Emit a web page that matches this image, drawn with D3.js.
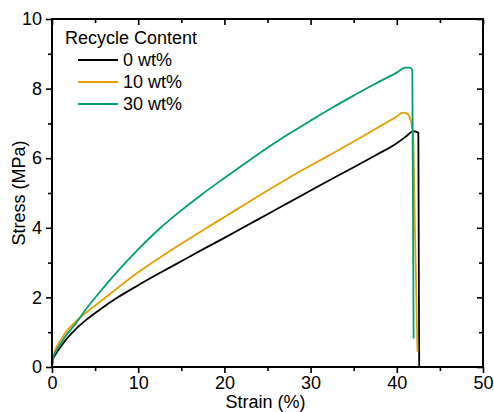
<!DOCTYPE html>
<html lang="en">
<head>
	<meta charset="UTF-8">
	<title>Stress strain</title>
	<style>
		body { margin: 0; background: #fff; }
		svg { display: block; font-family: "Liberation Sans", Arial, sans-serif; }
	</style>
</head>
<body>

	<script src="https://d3js.org/d3.v7.min.js" charset="utf-8"></script>

	<script type="text/javascript">

		var seriesNames = [ "0 wt%", "10 wt%", "30 wt%" ],
			seriesColors = [ "#000000", "#E69F00", "#009E73" ];

		// strain (%) / stress (MPa)
		var strain0 = [ 0, 0.1, 0.4, 0.9, 1.6, 2.6, 4, 5.5, 7.5, 10, 12.5, 15, 17.5, 20, 22.5, 25, 27.5, 30, 32.5, 35, 37.5, 40, 41.2, 41.9, 42.5, 42.55, 42.6 ],
			stress0 = [ 0, 0.2, 0.36, 0.54, 0.78, 1.05, 1.36, 1.64, 1.98, 2.35, 2.7, 3.04, 3.38, 3.71, 4.05, 4.39, 4.73, 5.07, 5.41, 5.74, 6.08, 6.43, 6.65, 6.78, 6.73, 3.0, 0.0 ];

		var strain10 = [ 0, 0.12, 0.4, 0.9, 1.6, 2.6, 4, 5.5, 7.5, 10, 12.5, 15, 17.5, 20, 22.5, 25, 27.5, 30, 32.5, 35, 37.5, 40, 40.7, 41.2, 41.6, 41.9, 42.1, 42.4 ],
			stress10 = [ 0, 0.25, 0.5, 0.73, 1.0, 1.27, 1.57, 1.86, 2.25, 2.72, 3.14, 3.54, 3.93, 4.31, 4.69, 5.07, 5.44, 5.79, 6.13, 6.48, 6.84, 7.2, 7.31, 7.28, 7.1, 6.6, 4.0, 0.44 ];

		var strain30 = [ 0, 0.12, 0.4, 0.9, 1.6, 2.6, 4, 5.5, 7.5, 10, 12.5, 15, 17.5, 20, 22.5, 25, 27.5, 30, 32.5, 35, 37.5, 40, 41.0, 41.5, 41.8, 41.95 ],
			stress30 = [ 0, 0.25, 0.42, 0.63, 0.9, 1.2, 1.68, 2.14, 2.72, 3.38, 3.98, 4.5, 4.98, 5.43, 5.87, 6.3, 6.7, 7.08, 7.45, 7.8, 8.14, 8.46, 8.6, 8.6, 8.53, 0.82 ];

		var xTicks = [ 0, 10, 20, 30, 40, 50 ],
			yTicks = [ 0, 2, 4, 6, 8, 10 ];

		var chartWidth = 494,
			chartHeight = 412,
			margin = { top: 19, right: 11, bottom: 45, left: 52 };

		var plotWidth = chartWidth - margin.left - margin.right,
			plotHeight = chartHeight - margin.top - margin.bottom;

		var svg = d3.select( "body" )
					.append( "svg" )
					.attr( "width", chartWidth )
					.attr( "height", chartHeight );

		var plot = svg.append( "g" )
					.attr( "transform", "translate(" + margin.left + "," + margin.top + ")" );

		var x = d3.scaleLinear().domain( [ 0, 50 ] ).range( [ 0, plotWidth ] ),
			y = d3.scaleLinear().domain( [ 0, 10 ] ).range( [ plotHeight, 0 ] );

		var allSeries = [
			d3.zip( strain0, stress0 ),
			d3.zip( strain10, stress10 ),
			d3.zip( strain30, stress30 )
		];

		var line = d3.line()
				.x( function(d) { return x( d[0] ); } )
				.y( function(d) { return y( d[1] ); } )
				.curve( d3.curveMonotoneX );

		// curves first, frame on top
		plot.selectAll( "path.curve" )
			.data( allSeries )
			.enter()
			.append( "path" )
			.attr( "class", "curve" )
			.attr( "d", line )
			.style( "fill", "none" )
			.style( "stroke", function(d, i) { return seriesColors[i]; } )
			.style( "stroke-width", 1.8 )
			.style( "stroke-linejoin", "round" );

		function styleAxis( g ) {
			g.select( ".domain" ).remove();
			g.selectAll( "line" ).style( "stroke", "#000" ).style( "stroke-width", 1.6 );
			g.selectAll( "text" ).style( "font-size", "18px" ).style( "fill", "#000" );
		}

		var xMinor = d3.range( 5, 50, 10 ),
			yMinor = d3.range( 1, 10, 2 );

		// bottom and left: ticks outward with labels
		plot.append( "g" )
			.attr( "transform", "translate(0," + plotHeight + ")" )
			.call( d3.axisBottom( x ).tickValues( xTicks ).tickSize( 6 ).tickPadding( 3 ) )
			.call( styleAxis );

		plot.append( "g" )
			.attr( "transform", "translate(0," + plotHeight + ")" )
			.call( d3.axisBottom( x ).tickValues( xMinor ).tickSize( 4 ).tickFormat( "" ) )
			.call( styleAxis );

		plot.append( "g" )
			.call( d3.axisLeft( y ).tickValues( yTicks ).tickSize( 6 ).tickPadding( 4 ) )
			.call( styleAxis );

		plot.append( "g" )
			.call( d3.axisLeft( y ).tickValues( yMinor ).tickSize( 4 ).tickFormat( "" ) )
			.call( styleAxis );

		// top and right: ticks inward, no labels
		plot.append( "g" )
			.call( d3.axisTop( x ).tickValues( xTicks ).tickSize( -6 ).tickFormat( "" ) )
			.call( styleAxis );

		plot.append( "g" )
			.call( d3.axisTop( x ).tickValues( xMinor ).tickSize( -4 ).tickFormat( "" ) )
			.call( styleAxis );

		plot.append( "g" )
			.attr( "transform", "translate(" + plotWidth + ",0)" )
			.call( d3.axisRight( y ).tickValues( yTicks ).tickSize( -6 ).tickFormat( "" ) )
			.call( styleAxis );

		plot.append( "g" )
			.attr( "transform", "translate(" + plotWidth + ",0)" )
			.call( d3.axisRight( y ).tickValues( yMinor ).tickSize( -4 ).tickFormat( "" ) )
			.call( styleAxis );

		plot.append( "rect" )
			.attr( "width", plotWidth )
			.attr( "height", plotHeight )
			.style( "fill", "none" )
			.style( "stroke", "#000" )
			.style( "stroke-width", 2 );

		// axis titles (the x title sits at the lower edge, as in the original)
		plot.append( "text" )
			.attr( "x", plotWidth / 2 - 2 )
			.attr( "y", plotHeight + 41 )
			.attr( "text-anchor", "middle" )
			.style( "font-size", "18px" )
			.text( "Strain (%)" );

		plot.append( "text" )
			.attr( "transform", "translate(" + ( -27 ) + "," + ( plotHeight / 2 ) + ") rotate(-90)" )
			.attr( "text-anchor", "middle" )
			.style( "font-size", "18px" )
			.text( "Stress (MPa)" );

		// legend
		var legend = plot.append( "g" )
					.attr( "transform", "translate(13,25)" );

		legend.append( "text" )
			.attr( "x", 0 )
			.attr( "y", 0 )
			.style( "font-size", "18px" )
			.text( "Recycle Content" );

		var items = legend.selectAll( "g.item" )
					.data( seriesNames )
					.enter()
					.append( "g" )
					.attr( "class", "item" )
					.attr( "transform", function(d, i) { return "translate(0," + ( 16 + i * 22 ) + ")"; } );

		items.append( "line" )
			.attr( "x1", 13 )
			.attr( "x2", 53 )
			.style( "stroke", function(d, i) { return seriesColors[i]; } )
			.style( "stroke-width", 1.8 );

		items.append( "text" )
			.attr( "x", 58 )
			.attr( "dy", "0.35em" )
			.style( "font-size", "18px" )
			.text( function(d) { return d; } );

	</script>
</body>
</html>
